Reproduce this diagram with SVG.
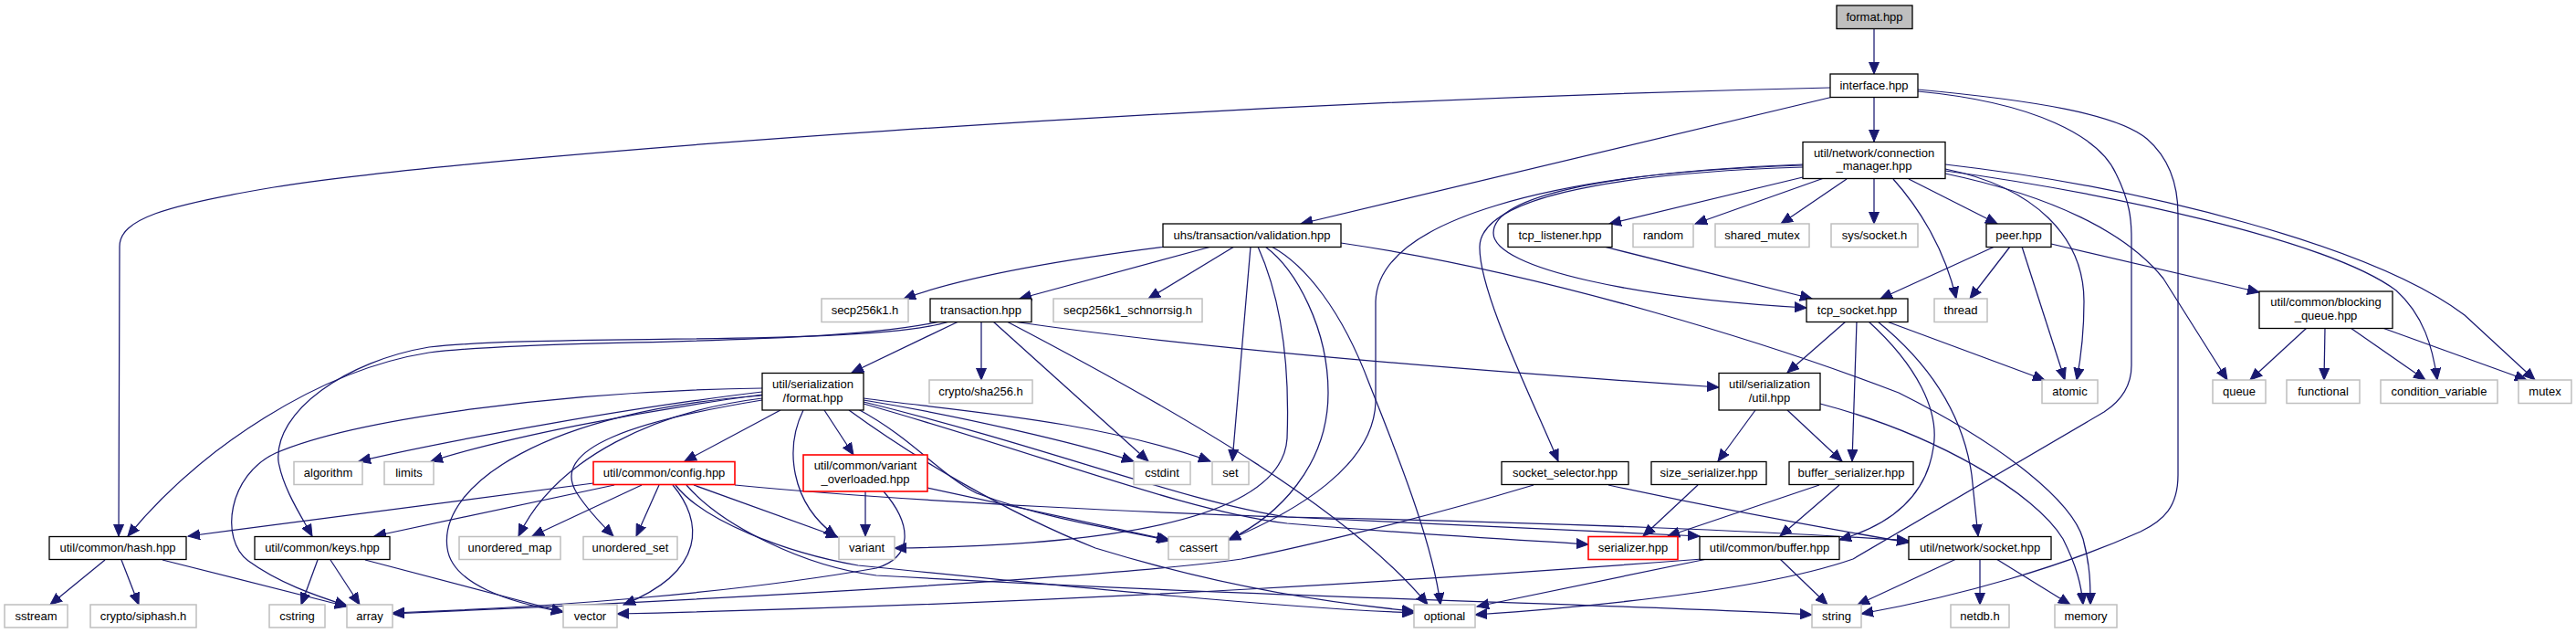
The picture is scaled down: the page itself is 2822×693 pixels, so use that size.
<svg xmlns="http://www.w3.org/2000/svg" width="2822" height="693" viewBox="0 0 2822 693">
<style>
.n rect{fill:#fff;stroke:#000;stroke-width:1.3}
.g rect{fill:#fff;stroke:#bfbfbf;stroke-width:1.5}
.r rect{fill:#fff;stroke:#ff0000;stroke-width:1.6}
.root rect{fill:#bfbfbf;stroke:#000;stroke-width:1.3}
text{font-family:"Liberation Sans",Arial,Helvetica,sans-serif;font-size:13px;fill:#000;text-anchor:middle}
#edges path{fill:none;stroke:#191970;stroke-width:1.25;marker-end:url(#ah)}
</style>
<defs>
<marker id="ah" markerUnits="userSpaceOnUse" markerWidth="14" markerHeight="12" refX="13" refY="5.5" orient="auto" viewBox="0 0 14 11">
<path d="M0,0 L13,5.5 L0,11 z" fill="#191970" stroke="#191970" stroke-width="1"/>
</marker>
</defs>
<rect width="2822" height="693" fill="#fff"/>
<g id="edges">
<path d="M2053,31 L2053,81"/>
<path d="M2005,96 C1300,112 520,170 300,205 C180,225 131,240 131,270 L130,587"/>
<path d="M2008,106 L1425,245"/>
<path d="M2053,106 L2053,155"/>
<path d="M2101,100 C2230,112 2300,150 2318,190 C2333,220 2335,240 2335,260 L2335,400 C2335,425 2322,440 2305,451 L2030,612 C1950,640 1800,660 1616,673"/>
<path d="M2101,98 C2230,110 2320,125 2352,152 C2375,172 2386,200 2386,235 L2386,520 C2386,555 2370,570 2345,582 C2260,620 2150,652 2039,672"/>
<path d="M1975,194 L1763,245"/>
<path d="M1998,195 L1857,245"/>
<path d="M2023,196 L1951,245"/>
<path d="M2053,195 L2053,245"/>
<path d="M2074,196 C2100,225 2130,270 2143,327"/>
<path d="M2091,196 L2188,245"/>
<path d="M2131,185 C2230,205 2283,260 2283,330 C2283,370 2279,395 2275,416"/>
<path d="M2131,190 C2250,215 2330,255 2370,305 L2440,416"/>
<path d="M2131,187 C2300,210 2550,262 2625,318 C2655,345 2665,380 2670,416"/>
<path d="M2131,180 C2350,205 2600,270 2700,345 L2777,416"/>
<path d="M1975,181 C1760,188 1636,215 1636,255 C1636,295 1800,327 1979,337"/>
<path d="M1975,183 C1750,190 1622,220 1621,270 C1620,320 1680,440 1707,505"/>
<path d="M1975,180 C1700,190 1510,240 1507,330 L1507,440 C1505,510 1420,560 1346,591"/>
<path d="M1277,270 C1150,286 1050,305 990,327"/>
<path d="M1327,270 L1117,327"/>
<path d="M1352,270 L1258,327"/>
<path d="M1370,270 L1350,505"/>
<path d="M1378,270 C1405,330 1413,400 1410,480 C1405,560 1250,597 980,600"/>
<path d="M1386,270 C1420,295 1455,360 1455,430 C1455,510 1400,565 1346,591"/>
<path d="M1393,270 C1430,290 1470,340 1500,420 C1540,520 1570,600 1578,662"/>
<path d="M1469,266 C1700,300 1950,380 2080,430 C2200,490 2270,550 2282,590 C2290,620 2290,640 2290,662"/>
<path d="M1757,270 L1985,327"/>
<path d="M2185,270 L2060,327"/>
<path d="M2202,270 L2158,327"/>
<path d="M2215,270 L2262,416"/>
<path d="M2247,267 L2475,320"/>
<path d="M2527,359 L2465,416"/>
<path d="M2547,359 L2546,416"/>
<path d="M2575,359 L2657,416"/>
<path d="M2610,359 L2768,416"/>
<path d="M2022,352 L1958,408"/>
<path d="M2034,352 L2029,505"/>
<path d="M2047,352 C2100,400 2125,450 2118,490 C2110,545 2070,575 2015,591"/>
<path d="M2057,352 C2110,395 2150,450 2160,520 L2167,587"/>
<path d="M2067,352 L2240,416"/>
<path d="M1923,449 L1882,505"/>
<path d="M1958,449 L2018,505"/>
<path d="M1994,442 C2120,475 2230,540 2260,590 C2275,620 2280,640 2282,662"/>
<path d="M1993,531 L1827,587"/>
<path d="M2015,531 L1950,587"/>
<path d="M1860,531 L1800,587"/>
<path d="M1762,531 C1850,550 1950,570 2091,594"/>
<path d="M1680,531 C1550,570 1420,600 1360,612 C1200,635 700,660 430,672"/>
<path d="M2143,612 L2035,662"/>
<path d="M2169,612 L2169,662"/>
<path d="M2187,612 L2268,662"/>
<path d="M1950,612 L2002,662"/>
<path d="M1870,612 L1618,664"/>
<path d="M1865,612 C1600,632 1200,660 676,672"/>
<path d="M752,531 C790,575 880,620 960,630 C1400,655 1800,662 1985,673"/>
<path d="M740,531 C770,570 860,605 940,619 C1200,645 1400,665 1549,671"/>
<path d="M650,529 L206,587"/>
<path d="M673,531 L410,587"/>
<path d="M703,531 L583,587"/>
<path d="M722,531 L697,587"/>
<path d="M737,531 C770,570 775,625 683,662"/>
<path d="M760,531 L918,588"/>
<path d="M805,531 C1000,550 1300,563 1410,566 C1700,572 1950,582 2091,592"/>
<path d="M855,449 L750,505"/>
<path d="M903,449 L935,498"/>
<path d="M880,449 C860,490 865,550 916,587"/>
<path d="M835,429 C700,445 500,480 393,505"/>
<path d="M835,432 C700,450 550,480 472,505"/>
<path d="M835,425 C620,428 390,458 302,496 C250,520 240,590 272,614 C305,638 345,652 380,663"/>
<path d="M835,436 C720,450 610,500 568,587"/>
<path d="M835,438 C700,460 600,490 632,540 C645,560 660,575 672,587"/>
<path d="M835,433 C600,450 480,530 490,600 C495,640 560,660 617,670"/>
<path d="M946,438 C1050,455 1180,485 1242,505"/>
<path d="M946,436 C1050,450 1200,460 1326,505"/>
<path d="M940,448 C1000,480 1030,520 1070,540 C1150,570 1230,580 1282,592"/>
<path d="M930,449 C1000,500 1100,560 1200,600 C1330,640 1450,660 1549,669"/>
<path d="M946,442 C1150,500 1300,560 1410,573 C1550,585 1680,592 1740,596"/>
<path d="M946,440 C1150,490 1300,550 1410,566 C1600,575 1780,582 1862,587"/>
<path d="M1050,352 L933,408"/>
<path d="M1075,352 L1075,416"/>
<path d="M1088,352 L1258,505"/>
<path d="M1103,352 C1300,455 1480,560 1564,662"/>
<path d="M1110,352 C1300,380 1600,405 1883,424"/>
<path d="M1030,352 C900,380 600,370 470,386 C350,405 220,490 140,587"/>
<path d="M1040,352 C950,380 600,365 470,380 C380,395 300,450 305,505 C310,535 330,565 342,587"/>
<path d="M348,613 L330,662"/>
<path d="M362,613 L394,662"/>
<path d="M400,613 L617,670"/>
<path d="M115,613 L55,662"/>
<path d="M133,613 L152,662"/>
<path d="M178,613 L380,664"/>
<path d="M948,538 L948,587"/>
<path d="M1016,534 L1280,591"/>
<path d="M968,538 C1000,575 1000,610 960,622 C800,650 600,665 430,671"/>
</g>
<g id="format_hpp" class="root"><rect x="2012" y="6" width="83" height="25.5"/><text x="2053.5" y="23">format.hpp</text></g>
<g id="interface_hpp" class="n"><rect x="2005" y="81" width="96" height="25.5"/><text x="2053" y="98">interface.hpp</text></g>
<g id="connection_manager_hpp" class="n"><rect x="1975" y="155.5" width="156" height="40"/><text x="2053" y="171.5">util/network/connection</text><text x="2053" y="186">_manager.hpp</text></g>
<g id="validation_hpp" class="n"><rect x="1274" y="245" width="195" height="25.5"/><text x="1371.5" y="262">uhs/transaction/validation.hpp</text></g>
<g id="tcp_listener_hpp" class="n"><rect x="1652" y="245" width="114" height="25.5"/><text x="1709" y="262">tcp_listener.hpp</text></g>
<g id="random" class="g"><rect x="1789" y="245" width="66" height="25.5"/><text x="1822" y="262">random</text></g>
<g id="shared_mutex" class="g"><rect x="1879" y="245" width="103" height="25.5"/><text x="1930.5" y="262">shared_mutex</text></g>
<g id="sys_socket_h" class="g"><rect x="2006" y="245" width="95" height="25.5"/><text x="2053.5" y="262">sys/socket.h</text></g>
<g id="peer_hpp" class="n"><rect x="2176" y="245" width="71" height="25.5"/><text x="2211.5" y="262">peer.hpp</text></g>
<g id="secp256k1_h" class="g"><rect x="900" y="327" width="95" height="25.5"/><text x="947.5" y="344">secp256k1.h</text></g>
<g id="transaction_hpp" class="n"><rect x="1019" y="327" width="111" height="25.5"/><text x="1074.5" y="344">transaction.hpp</text></g>
<g id="secp256k1_schnorrsig_h" class="g"><rect x="1154" y="327" width="163" height="25.5"/><text x="1235.5" y="344">secp256k1_schnorrsig.h</text></g>
<g id="tcp_socket_hpp" class="n"><rect x="1979" y="327" width="111" height="25.5"/><text x="2034.5" y="344">tcp_socket.hpp</text></g>
<g id="thread" class="g"><rect x="2119" y="327" width="58" height="25.5"/><text x="2148" y="344">thread</text></g>
<g id="blocking_queue_hpp" class="n"><rect x="2475" y="319" width="146" height="40.5"/><text x="2548" y="335">util/common/blocking</text><text x="2548" y="350">_queue.hpp</text></g>
<g id="serialization_format_hpp" class="n"><rect x="835" y="408.5" width="111" height="40.5"/><text x="890.5" y="425">util/serialization</text><text x="890.5" y="439.5">/format.hpp</text></g>
<g id="crypto_sha256_h" class="g"><rect x="1018" y="416" width="113" height="25.5"/><text x="1074.5" y="433">crypto/sha256.h</text></g>
<g id="serialization_util_hpp" class="n"><rect x="1883" y="408.5" width="111" height="40.5"/><text x="1938.5" y="425">util/serialization</text><text x="1938.5" y="439.5">/util.hpp</text></g>
<g id="atomic" class="g"><rect x="2237" y="416" width="61" height="25.5"/><text x="2267.5" y="433">atomic</text></g>
<g id="queue" class="g"><rect x="2424" y="416" width="58" height="25.5"/><text x="2453" y="433">queue</text></g>
<g id="functional" class="g"><rect x="2505" y="416" width="80" height="25.5"/><text x="2545" y="433">functional</text></g>
<g id="condition_variable" class="g"><rect x="2608" y="416" width="128" height="25.5"/><text x="2672" y="433">condition_variable</text></g>
<g id="mutex" class="g"><rect x="2759" y="416" width="58" height="25.5"/><text x="2788" y="433">mutex</text></g>
<g id="algorithm" class="g"><rect x="322" y="505.5" width="75" height="25"/><text x="359.5" y="522">algorithm</text></g>
<g id="limits" class="g"><rect x="421" y="505.5" width="54" height="25"/><text x="448" y="522">limits</text></g>
<g id="config_hpp" class="r"><rect x="650" y="505.5" width="155" height="25"/><text x="727.5" y="522">util/common/config.hpp</text></g>
<g id="variant_overloaded_hpp" class="r"><rect x="880" y="498" width="136" height="40"/><text x="948" y="514">util/common/variant</text><text x="948" y="529">_overloaded.hpp</text></g>
<g id="cstdint" class="g"><rect x="1242" y="505.5" width="62" height="25"/><text x="1273" y="522">cstdint</text></g>
<g id="set" class="g"><rect x="1328" y="505.5" width="40" height="25"/><text x="1348" y="522">set</text></g>
<g id="socket_selector_hpp" class="n"><rect x="1645" y="505.5" width="139" height="25"/><text x="1714.5" y="522">socket_selector.hpp</text></g>
<g id="size_serializer_hpp" class="n"><rect x="1809" y="505.5" width="126" height="25"/><text x="1872" y="522">size_serializer.hpp</text></g>
<g id="buffer_serializer_hpp" class="n"><rect x="1960" y="505.5" width="136" height="25"/><text x="2028" y="522">buffer_serializer.hpp</text></g>
<g id="hash_hpp" class="n"><rect x="54" y="587.5" width="150" height="25"/><text x="129" y="604">util/common/hash.hpp</text></g>
<g id="keys_hpp" class="n"><rect x="279" y="587.5" width="148" height="25"/><text x="353" y="604">util/common/keys.hpp</text></g>
<g id="unordered_map" class="g"><rect x="503" y="587.5" width="111" height="25"/><text x="558.5" y="604">unordered_map</text></g>
<g id="unordered_set" class="g"><rect x="639" y="587.5" width="103" height="25"/><text x="690.5" y="604">unordered_set</text></g>
<g id="variant" class="g"><rect x="919" y="587.5" width="61" height="25"/><text x="949.5" y="604">variant</text></g>
<g id="cassert" class="g"><rect x="1280" y="587.5" width="66" height="25"/><text x="1313" y="604">cassert</text></g>
<g id="serializer_hpp" class="r"><rect x="1740" y="587.5" width="98" height="25"/><text x="1789" y="604">serializer.hpp</text></g>
<g id="buffer_hpp" class="n"><rect x="1862" y="587.5" width="153" height="25"/><text x="1938.5" y="604">util/common/buffer.hpp</text></g>
<g id="socket_hpp" class="n"><rect x="2091" y="587.5" width="156" height="25"/><text x="2169" y="604">util/network/socket.hpp</text></g>
<g id="sstream" class="g"><rect x="5" y="662" width="69" height="25"/><text x="39.5" y="679">sstream</text></g>
<g id="crypto_siphash_h" class="g"><rect x="99" y="662" width="116" height="25"/><text x="157" y="679">crypto/siphash.h</text></g>
<g id="cstring" class="g"><rect x="295" y="662" width="61" height="25"/><text x="325.5" y="679">cstring</text></g>
<g id="array" class="g"><rect x="380" y="662" width="50" height="25"/><text x="405" y="679">array</text></g>
<g id="vector" class="g"><rect x="617" y="662" width="59" height="25"/><text x="646.5" y="679">vector</text></g>
<g id="optional" class="g"><rect x="1549" y="662" width="67" height="25"/><text x="1582.5" y="679">optional</text></g>
<g id="string" class="g"><rect x="1985" y="662" width="54" height="25"/><text x="2012" y="679">string</text></g>
<g id="netdb_h" class="g"><rect x="2137" y="662" width="64" height="25"/><text x="2169" y="679">netdb.h</text></g>
<g id="memory" class="g"><rect x="2251" y="662" width="68" height="25"/><text x="2285" y="679">memory</text></g>
</svg>
